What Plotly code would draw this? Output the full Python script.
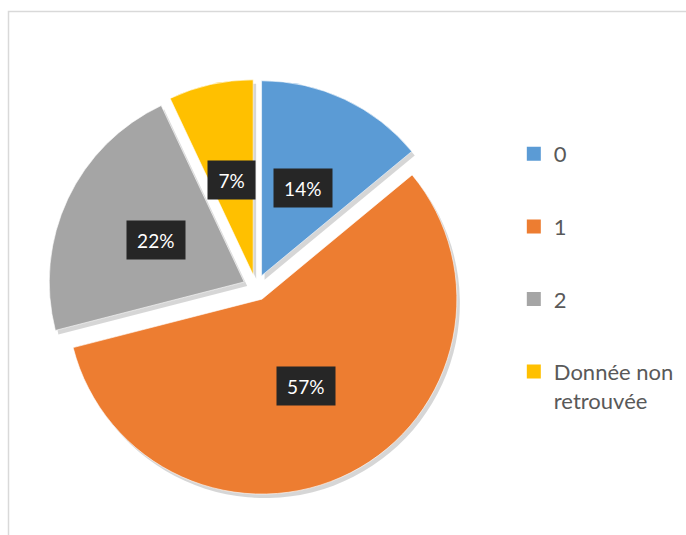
import math
import plotly.graph_objects as go

# ---- data ----
categories = ["0", "1", "2", "Donnée non retrouvée"]
legend_labels = ["0", "1", "2", "Donnée non<br>retrouvée"]
percentages = [14, 57, 22, 7]
colors = ["#5B9BD5", "#ED7D31", "#A5A5A5", "#FFC000"]

W, H = 686, 535
PULL = 0.067
# pie domain (paper)
dom_x = [0.0700, 0.6764]
dom_y = [0.0738, 0.8514]

fig = go.Figure()

# soft shadow pie underneath
sx, sy = 3 / W, 4 / H
fig.add_trace(go.Pie(
    labels=categories, values=percentages, sort=False, direction="clockwise",
    rotation=0, pull=[PULL] * 4, textinfo="none", hoverinfo="skip",
    marker=dict(colors=["rgba(0,0,0,0.16)"] * 4, line=dict(width=0)),
    domain=dict(x=[dom_x[0] + sx, dom_x[1] + sx], y=[dom_y[0] - sy, dom_y[1] - sy]),
    showlegend=False,
))

fig.add_trace(go.Pie(
    labels=categories, values=percentages, sort=False, direction="clockwise",
    rotation=0, pull=[PULL] * 4, textinfo="none",
    marker=dict(colors=colors, line=dict(color="rgba(255,255,255,0.6)", width=1)),
    domain=dict(x=dom_x, y=dom_y),
    showlegend=False,
))

# percentage labels in dark boxes, positioned from the slice geometry
bw = (dom_x[1] - dom_x[0]) * W
bh = (dom_y[1] - dom_y[0]) * H
r = min(bw, bh) / (2 + 2 * PULL)
cx = (dom_x[0] + dom_x[1]) / 2 * W
cy = (1 - (dom_y[0] + dom_y[1]) / 2) * H
total = sum(percentages)
cum = 0
for v in percentages:
    mid = (cum + v / 2) / total * 2 * math.pi
    cum += v
    dx, dy = math.sin(mid), -math.cos(mid)
    d = r * PULL + 0.5 * r
    px, py = cx + d * dx, cy + d * dy
    txt = f"{round(v / total * 100)}%"
    fig.add_annotation(
        x=px / W, y=1 - py / H, xref="paper", yref="paper",
        text=txt, showarrow=False,
        font=dict(family="Lato", size=19, color="#FFFFFF"),
        bgcolor="#262626", borderpad=7,
        width=10.5 * len(txt) + 12, height=24, align="center",
        xanchor="center", yanchor="middle",
    )

# legend via dummy traces (to control spacing)
for lab, col in zip(legend_labels, colors):
    fig.add_trace(go.Scatter(
        x=[None], y=[None], mode="markers", name=lab, legendgroup=lab,
        marker=dict(symbol="square", size=14, color=col),
    ))

fig.add_shape(type="rect", xref="paper", yref="paper",
              x0=8.5 / W, x1=1.05, y0=-0.05, y1=1 - 11.5 / H,
              line=dict(color="#D9D9D9", width=1.5), fillcolor="rgba(0,0,0,0)")

fig.update_layout(
    width=W, height=H,
    margin=dict(l=0, r=0, t=0, b=0),
    paper_bgcolor="white", plot_bgcolor="white",
    xaxis=dict(visible=False), yaxis=dict(visible=False),
    showlegend=True,
    legend=dict(
        x=0.749, y=1 - 133 / H, xanchor="left", yanchor="top",
        font=dict(family="Lato", size=22, color="#595959"),
        tracegroupgap=41, valign="top", bgcolor="rgba(0,0,0,0)",
    ),
)

fig.write_html(
    "out.html",
    config={"displayModeBar": False},
    post_script="document.body.style.margin='0';document.body.style.overflow='hidden';",
)
